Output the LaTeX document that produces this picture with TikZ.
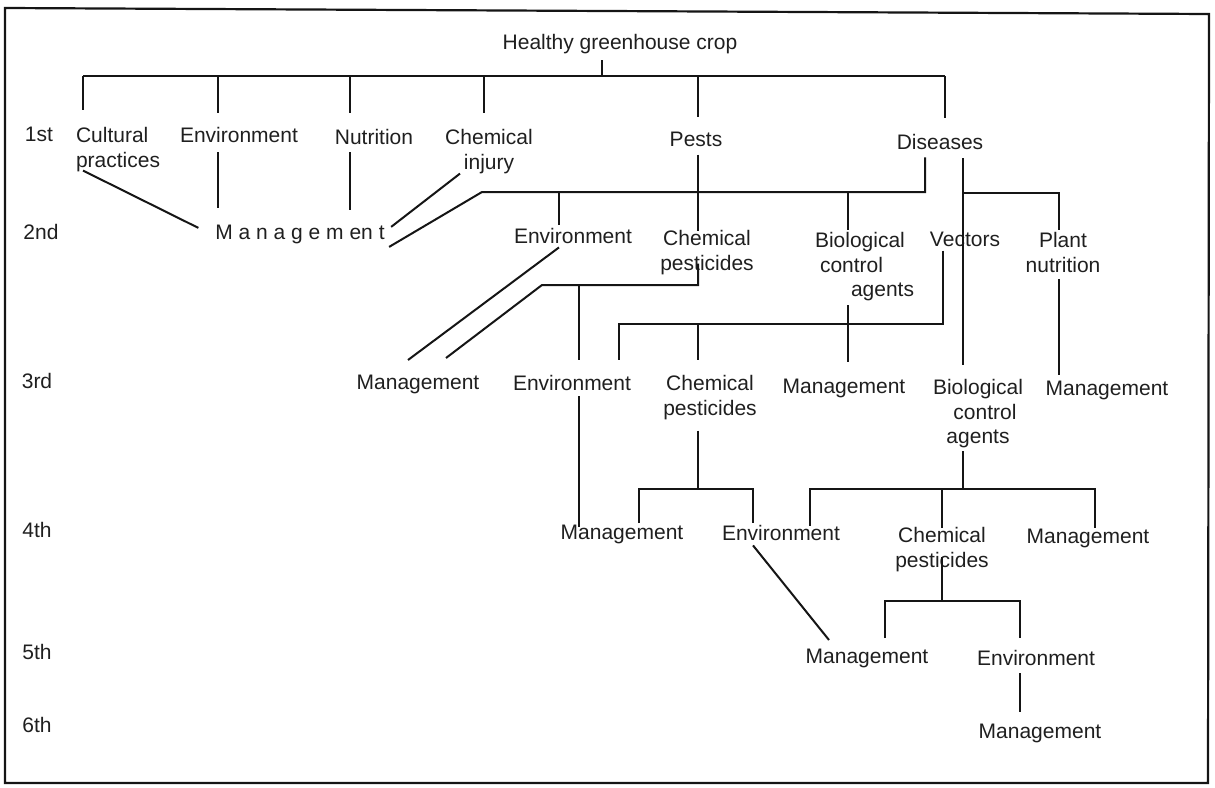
\documentclass[tikz,border=0pt]{standalone}
\usepackage{fontspec}
\setmainfont{Liberation Sans}
\usetikzlibrary{calc}
\definecolor{ink}{HTML}{1F1F1F}
\definecolor{rule}{HTML}{151515}
\begin{document}
\begin{tikzpicture}[x=1pt,y=-1pt,
  lbl/.style={anchor=north,inner sep=0pt,outer sep=0pt,text=ink,
    font=\fontsize{21}{24.5}\selectfont,align=center},
  lblw/.style={lbl,anchor=north west,align=left},
  link/.style={draw=rule,line width=2pt},
  every path/.style={line cap=butt,line join=miter}]
\useasboundingbox (0,0) rectangle (1215,787);

% frame
\draw[rule,line width=2.2pt] (5,8) -- (1209,14) -- (1208,783) -- (5,783) -- cycle;

% level labels
\node[lbl] (l1) at (39,127.5) {1st};
\node[lbl] (l2) at (41,224.5) {2nd};
\node[lbl] (l3) at (37,373.5) {3rd};
\node[lbl] (l4) at (37,522.5) {4th};
\node[lbl] (l5) at (37,644.5) {5th};
\node[lbl] (l6) at (37,717.5) {6th};

% root and first level
\node[lbl] (title) at (620,34.5) {Healthy greenhouse crop};
\node[lblw] (cult) at (76,127.5) {Cultural\\practices};
\node[lbl] (env1) at (239,127.5) {Environment};
\node[lbl] (nutr) at (374,129.5) {Nutrition};
\node[lbl] (chinj) at (489,129.5) {Chemical\\injury};
\node[lbl] (pests) at (696,132.5) {Pests};
\node[lbl] (dis) at (940,134.5) {Diseases};

% second level
\node[lbl] (mgmt2) at (300,225.5) {M a n a g e m en t};
\node[lbl] (env2) at (573,228.5) {Environment};
\node[lbl] (cp2) at (707,230.5) {Chemical\\pesticides};
\node[lblw] (bca2) at (815,232.5) {Biological\\\hspace*{5pt}control\\\hspace*{36pt}agents};
\node[lbl] (vec) at (965,232.5) {Vectors};
\node[lbl] (pn) at (1063,232.5) {Plant\\nutrition};

% third level
\node[lbl] (mgmt3a) at (418,375.5) {Management};
\node[lbl] (env3) at (572,375.5) {Environment};
\node[lbl] (cp3) at (710,375.5) {Chemical\\pesticides};
\node[lbl] (mgmt3b) at (844,379.5) {Management};
\node[lbl] (bca3) at (978,379.5) {Biological\\\hspace*{14pt}control\\agents};
\node[lbl] (mgmt3c) at (1107,381.5) {Management};

% fourth level
\node[lbl] (mgmt4a) at (622,525.5) {Management};
\node[lbl] (env4) at (781,525.5) {Environment};
\node[lbl] (cp4) at (942,527.5) {Chemical\\pesticides};
\node[lbl] (mgmt4b) at (1088,529.5) {Management};

% fifth and sixth level
\node[lbl] (mgmt5) at (867,649.5) {Management};
\node[lbl] (env5) at (1036,650.5) {Environment};
\node[lbl] (mgmt6) at (1040,724.5) {Management};

% junction points
\coordinate (t0) at (602,76);
\coordinate (tL) at (83,76);
\coordinate (je) at (218,76);
\coordinate (jn) at (350,76);
\coordinate (jci) at (484,76);
\coordinate (jp) at (698,76);
\coordinate (tR) at (945,76);
\coordinate (dL) at (925,192);
\coordinate (dM) at (482,192);
\coordinate (jenv2) at (559,192);
\coordinate (jbca) at (848,192);
\coordinate (dR) at (963,193);
\coordinate (pnj) at (1059,193);
\coordinate (vA) at (943,324);
\coordinate (vB) at (619,324);
\coordinate (vC) at (698,324);
\coordinate (pA) at (698,285);
\coordinate (pB) at (542,285);
\coordinate (pC) at (579,285);
\coordinate (cA) at (698,489);
\coordinate (cL) at (639,489);
\coordinate (cR) at (753,489);
\coordinate (bA) at (963,489);
\coordinate (bL) at (810,489);
\coordinate (bM) at (942,489);
\coordinate (bR) at (1095,489);
\coordinate (eA) at (942,601);
\coordinate (eL) at (885,601);
\coordinate (eR) at (1020,601);

% root to first level
\draw[link,shorten <=6pt] (title.south -| t0) -- (t0);
\draw[link] (tL) -- (tR);
\draw[link,shorten >=17.5pt] (tL) -- (tL |- cult.north);
\draw[link,shorten >=14.5pt] (je) -- (je |- env1.north);
\draw[link,shorten >=16.5pt] (jn) -- (jn |- nutr.north);
\draw[link,shorten >=16.5pt] (jci) -- (jci |- chinj.north);
\draw[link,shorten >=15.5pt] (jp) -- (jp |- pests.north);
\draw[link,shorten >=16.5pt] (tR) -- (tR |- dis.north);

% first level to second level
\draw[link] ([shift={(7,-1)}]cult.south west) -- ([shift={(-17,-7)}]mgmt2.west);
\draw[link,shorten <=9.5pt,shorten >=17.5pt] (je |- env1.south) -- (je |- mgmt2.north);
\draw[link,shorten <=7.5pt,shorten >=15.5pt] (jn |- nutr.south) -- (jn |- mgmt2.north);
\draw[link] ([shift={(-29,0)}]chinj.south) -- ([shift={(6.5,-8)}]mgmt2.east);
\draw[link,shorten <=7.5pt] (dL |- dis.south) -- (dL) -- (dM) -- ([shift={(4.5,12)}]mgmt2.east);
\draw[link,shorten >=3.5pt] (jenv2) -- (jenv2 |- env2.north);
\draw[link,shorten >=2.5pt] (jbca) -- (jbca |- bca2.north);
\draw[link,shorten <=7.5pt] (jp |- pests.south) -- (jp |- cp2.north);
\draw[link,shorten <=8.5pt,shorten >=14.5pt] (dR |- dis.south) -- (dR |- bca3.north);
\draw[link,shorten >=2.5pt] (dR) -- (pnj) -- (pnj |- pn.north);

% second level to third level
\draw[link] ([shift={(-14,3.5)}]env2.south) -- ([shift={(-10,-15.5)}]mgmt3a.north);
\draw[link] ([shift={(-9,-11)}]cp2.south) -- (pA) -- (pB) -- ([shift={(28,-17.5)}]mgmt3a.north);
\draw[link,shorten >=15.5pt] (pC) -- (pC |- env3.north);
\draw[link,shorten <=3.5pt,shorten >=15.5pt] (vA |- vec.south) -- (vA) -- (vB) -- (vB |- env3.north);
\draw[link,shorten >=15.5pt] (vC) -- (vC |- cp3.north);
\draw[link,shorten <=4pt,shorten >=17.5pt] (jbca |- bca2.south) -- (jbca |- mgmt3b.north);
\draw[link,shorten <=6.5pt,shorten >=6.5pt] (pnj |- pn.south) -- (pnj |- mgmt3c.north);

% third level to fourth level
\draw[link,shorten <=5.5pt,shorten >=-1.5pt] (pC |- env3.south) -- (pC |- mgmt4a.north);
\draw[link,shorten <=11pt] (cA |- cp3.south) -- (cA);
\draw[link,shorten <=2.5pt,shorten >=2.5pt] (cL |- mgmt4a.north) -- (cL) -- (cR) -- (cR |- env4.north);
\draw[link,shorten <=3pt] (bA |- bca3.south) -- (bA);
\draw[link,shorten >=1.5pt] (bL |- env4.north) -- (bL) -- (bR) -- (bR |- mgmt4b.north);
\draw[link] (bM) -- (bM |- cp4.north);

% fourth level to fifth and sixth level
\draw[link] ([shift={(-28,4.5)}]env4.south) -- ([shift={(-38,-9.5)}]mgmt5.north);
\draw[link] ([shift={(0,-15)}]cp4.south) -- (eA);
\draw[link,shorten <=11.5pt,shorten >=12.5pt] (eL |- mgmt5.north) -- (eL) -- (eR) -- (eR |- env5.north);
\draw[link,shorten <=7.5pt,shorten >=12.5pt] (eR |- env5.south) -- (eR |- mgmt6.north);
\end{tikzpicture}
\end{document}
